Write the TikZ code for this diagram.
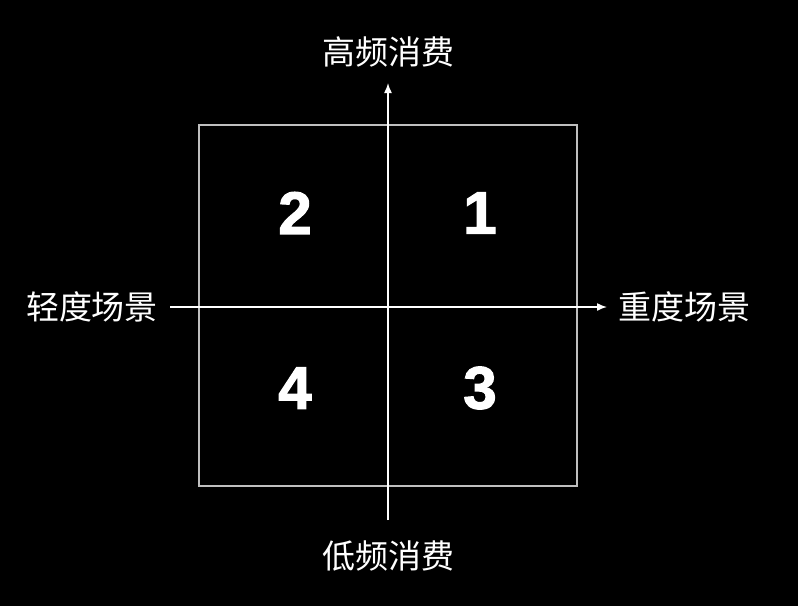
\documentclass[tikz,border=0pt]{standalone}
\usepackage{fontspec}
\setmainfont{Liberation Sans}
\newfontfamily\cjk{Noto Sans CJK SC}
\newfontfamily\numfont[BoldFeatures={FakeBold=2}]{Liberation Sans}
\usetikzlibrary{arrows.meta}
\begin{document}
\begin{tikzpicture}[x=1pt,y=-1pt,
  lbl/.style={font=\cjk\fontsize{33}{36}\selectfont, text=white, inner sep=0pt},
  num/.style={font=\numfont\bfseries\fontsize{60}{62}\selectfont, text=white, inner sep=0pt},
  axis/.style={draw=white, line width=1.5pt, -{Latex[length=10pt,width=8pt]}}]
\fill[black] (0,0) rectangle (798,606);
\useasboundingbox (0,0) rectangle (798,606);
\node[draw=white!75!black, line width=2.2pt, minimum width=378pt, minimum height=361pt, inner sep=0pt] (box) at (388,305.5) {};
\coordinate (vb) at (388,520);
\coordinate (vt) at (388,83);
\coordinate (hl) at (170,307);
\coordinate (hr) at (607,307);
\draw[axis] (vb) -- (vt);
\draw[axis] (hl) -- (hr);
\node[lbl] (top) at (388,52) {高频消费};
\node[lbl] (bot) at (388,556) {低频消费};
\node[lbl] (left) at (92,307) {轻度场景};
\node[lbl] (right) at (684,307) {重度场景};
\node[num] (n2) at (295,213) {2};
\node[num] (n1) at (480,213) {1};
\node[num] (n4) at (295,388) {4};
\node[num] (n3) at (480,388) {3};
\end{tikzpicture}
\end{document}
